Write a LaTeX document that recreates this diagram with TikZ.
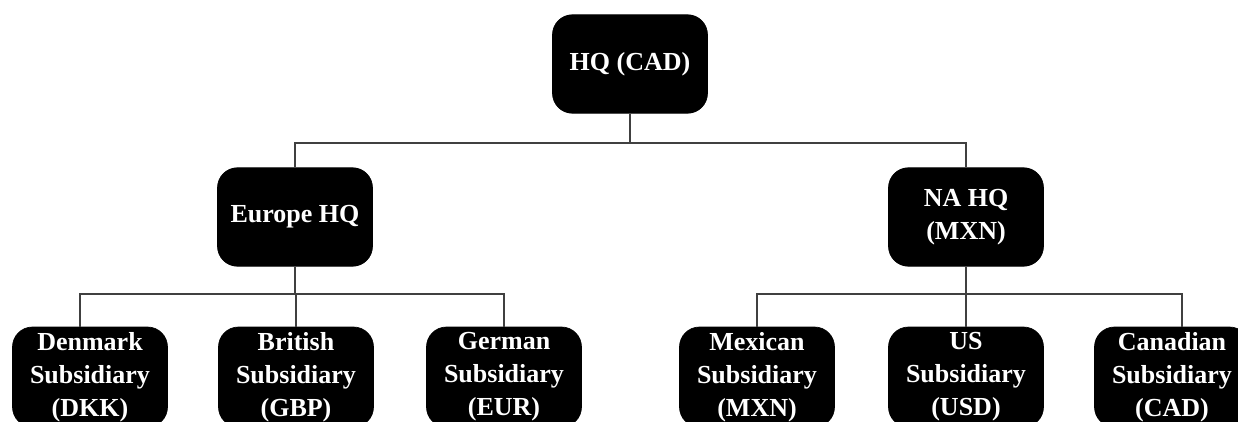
\documentclass[tikz,border=0pt]{standalone}
\usepackage{fontspec}
\setmainfont{Liberation Serif}
\usetikzlibrary{calc}
\tikzset{
	unit/.style={draw=black, fill=black, rounded corners=0.4cm, text=white, align=center, inner sep=0pt,
		font=\bfseries\fontsize{14.8}{18.8}\selectfont, minimum width=3.1cm, minimum height=1.97cm},
	leaf/.style={unit, minimum height=2.0cm},
	link/.style={draw=black!75, line width=1pt}
}

\begin{document}
\begin{tikzpicture}[x=0.02cm, y=-0.02cm]
			%%%%% START %%%%%
			
			\useasboundingbox (0, 0) rectangle (1238, 422);
			\clip (0, 0) rectangle (1238, 422);
			
			\coordinate (top bus) at (0, 143);
			\coordinate (left bus) at (0, 294);
			\coordinate (right bus) at (0, 294);
			
			\node[unit] (hq) at (630, 64) {HQ (CAD)};
			
			\node[unit] (eu) at (295, 217) {Europe HQ};
			\node[unit] (na) at (966, 217) {NA HQ\\(MXN)};
			
			\node[leaf] (dk) at (90, 377) {Denmark\\Subsidiary\\(DKK)};
			\node[leaf] (gb) at (296, 377) {British\\Subsidiary\\(GBP)};
			\node[leaf] (de) at (504, 377) {German\\Subsidiary\\(EUR)};
			
			\node[leaf] (mx) at (757, 377) {Mexican\\Subsidiary\\(MXN)};
			\node[leaf] (us) at (966, 377) {US\\Subsidiary\\(USD)};
			\node[leaf] (ca) at (1172, 377) {Canadian\\Subsidiary\\(CAD)};
			
			% top level
			\draw[link] (hq.south) -- (hq.south |- top bus);
			\draw[link] (eu.north) |- (na.north |- top bus) -- (na.north);
			
			% europe
			\draw[link] (eu.south) -- (eu.south |- left bus);
			\draw[link] ($(dk.north)+(-10, 0)$) |- (de.north |- left bus) -- (de.north);
			\draw[link] (gb.north) -- (gb.north |- left bus);
			
			% north america
			\draw[link] (na.south) -- (na.south |- right bus);
			\draw[link] (mx.north) |- ($(ca.north |- right bus)+(10, 0)$) -- ($(ca.north)+(10, 0)$);
			\draw[link] (us.north) -- (us.north |- right bus);
			
			%%%%% END %%%%%
		\end{tikzpicture}
\end{document}
